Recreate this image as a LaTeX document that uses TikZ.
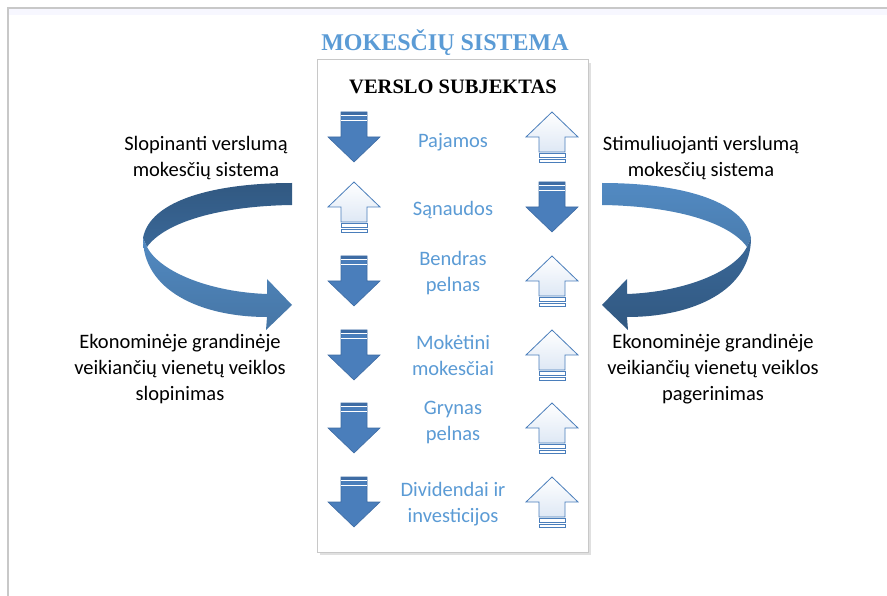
\documentclass[tikz,border=0pt]{standalone}
\usepackage{fontspec}
\setmainfont{Liberation Serif}
\newfontfamily\calib{Carlito}
\usetikzlibrary{positioning}
\definecolor{titleblue}{RGB}{91,155,213}
\definecolor{arrowblue}{RGB}{74,126,187}
\definecolor{arrowedge}{RGB}{62,108,164}
\definecolor{ribdark}{RGB}{58,104,152}
\definecolor{riblight}{RGB}{82,138,194}
\definecolor{paleblue}{RGB}{222,232,245}
\definecolor{framegray}{RGB}{200,200,200}

\tikzset{
  itemtxt/.style={font=\calib\fontsize{20.5}{26}\selectfont, text=titleblue, align=center},
  sidetxt/.style={font=\calib\fontsize{20.5}{26}\selectfont, align=center},
  downarr/.pic={
    \path[fill=arrowblue, draw=arrowedge, line width=0.6]
      (-13,-25) -- (13,-25) -- (13,0) -- (26,0) -- (0,25) -- (-26,0) -- (-13,0) -- cycle;
    \fill[arrowedge] (-13,-25) rectangle (13,-22.3);
    \draw[white, line width=0.9] (-13,-21.8) -- (13,-21.8) (-13,-17) -- (13,-17);
  },
  uparr/.pic={
    \path[draw=arrowblue, line width=0.8, top color=white, bottom color=paleblue]
      (0,-25) -- (26,0) -- (13,0) -- (13,15) -- (-13,15) -- (-13,0) -- (-26,0) -- cycle;
    \draw[arrowblue, line width=0.8, fill=white] (-13,16.5) rectangle (13,20.5) (-13,22) rectangle (13,25);
  }
}

\begin{document}
\begin{tikzpicture}[x=1pt,y=-1pt]
\useasboundingbox (0,0) rectangle (887,596);
% outer frame
\fill[blue!3] (9,9) rectangle (887,15);
\draw[framegray, line width=1.2] (887,8) -- (8,8) -- (8,596);

% title and box
\node[font=\bfseries\fontsize{24}{28}\selectfont, text=titleblue] (title) at (445,43) {MOKESČIŲ SISTEMA};
\fill[black!12] (320,63) rectangle (591,555);
\draw[framegray, fill=white, line width=1] (317,60) rectangle (588,552);
\node[font=\bfseries\fontsize{20.5}{24}\selectfont] (subj) at (453,87) {VERSLO SUBJEKTAS};

% items
\node[itemtxt] (pajamos) at (453,142) {Pajamos};
\node[itemtxt] (sanaudos) at (453,210) {Sąnaudos};
\node[itemtxt] (bendras) at (453,273) {Bendras\\pelnas};
\node[itemtxt] (moketini) at (453,355) {Mokėtini\\mokesčiai};
\node[itemtxt] (grynas) at (453,422) {Grynas\\pelnas};
\node[itemtxt] (dividendai) at (453,504) {Dividendai ir\\investicijos};

% arrows
\pic at (354,137) {downarr};
\pic at (552,137) {uparr};
\pic at (354,207) {uparr};
\pic at (552,207) {downarr};
\pic at (354,281) {downarr};
\pic at (552,281) {uparr};
\pic at (354,355) {downarr};
\pic at (552,355) {uparr};
\pic at (354,428) {downarr};
\pic at (552,428) {uparr};
\pic at (354,502) {downarr};
\pic at (552,502) {uparr};

% side texts
\node[sidetxt] (slopL) at (206,158) {Slopinanti verslumą\\mokesčių sistema};
\node[sidetxt] (ekonL) at (180,369) {Ekonominėje grandinėje\\veikiančių vienetų veiklos\\slopinimas};
\node[sidetxt] (stimR) at (701,158) {Stimuliuojanti verslumą\\mokesčių sistema};
\node[sidetxt] (ekonR) at (713,369) {Ekonominėje grandinėje\\veikiančių vienetų veiklos\\pagerinimas};

% curved arrow, left
\begin{scope}
\path[top color=ribdark!85!black, bottom color=ribdark]
  (292,183) .. controls (215,183) and (150,200) .. (143,238) -- (147,247)
  .. controls (165,222) and (220,206) .. (292,205) -- cycle;
\path[top color=riblight, bottom color=riblight!85!black]
  (143,238) .. controls (143,290) and (200,317) .. (267,317) -- (266,330) -- (292,305)
  -- (267,279) -- (267,294) .. controls (210,292) and (160,272) .. (147,247) -- cycle;
\end{scope}

% curved arrow, right
\begin{scope}[xshift=894pt, xscale=-1]
\path[top color=riblight, bottom color=riblight!90!black]
  (292,183) .. controls (215,183) and (150,200) .. (143,238) -- (147,247)
  .. controls (165,222) and (220,206) .. (292,205) -- cycle;
\path[top color=ribdark, bottom color=ribdark!85!black]
  (143,238) .. controls (143,290) and (200,317) .. (267,317) -- (266,330) -- (292,305)
  -- (267,279) -- (267,294) .. controls (210,292) and (160,272) .. (147,247) -- cycle;
\end{scope}
\end{tikzpicture}
\end{document}
